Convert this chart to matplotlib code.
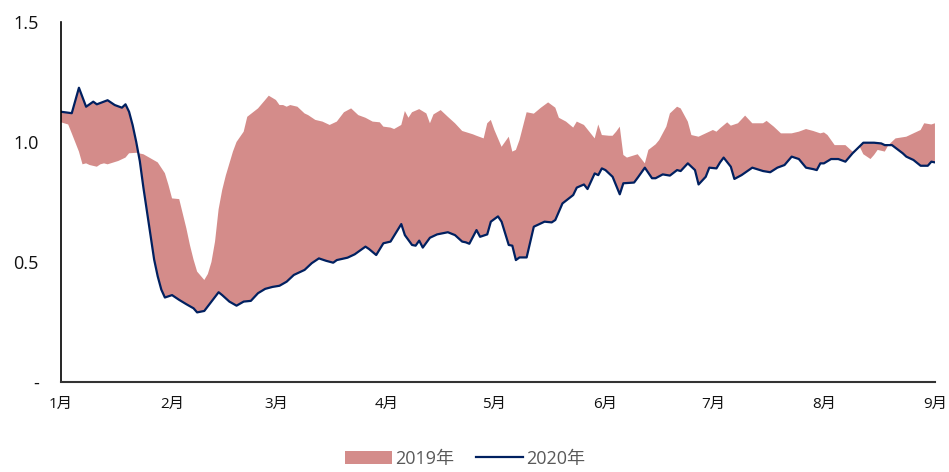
import numpy as np
import pandas as pd
import matplotlib
matplotlib.use("Agg")
import matplotlib.pyplot as plt
import matplotlib.dates as mdates

plt.rcParams['font.family'] = ['Open Sans', 'Noto Sans CJK SC', 'DejaVu Sans']

# day offsets from 2020-01-01 and values
days_2020 = [0, 3, 5, 7, 9, 10, 13, 15, 17, 18, 19, 20, 21, 22, 23, 24, 25, 26, 27, 28, 29,
             31, 33, 35, 37, 38, 40, 42, 44, 45, 47, 49, 51, 53, 55, 57, 59, 61, 63, 65, 68,
             70, 72, 74, 76, 77, 80, 82, 85, 86, 88, 90, 92, 95, 96, 98, 99, 100, 101, 103,
             105, 108, 110, 112, 113, 114, 116, 117, 119, 120, 121, 122, 123, 125, 126, 127,
             128, 130, 132, 135, 137, 138, 140, 143, 144, 146, 147, 149, 150, 151, 152, 154,
             156, 157, 160, 161, 163, 165, 166, 168, 170, 172, 173, 175, 177, 178, 180, 181,
             183, 184, 185, 187, 188, 190, 193, 196, 198, 200, 202, 204, 206, 208, 210, 211,
             212, 213, 215, 217, 219, 221, 224, 227, 229, 230, 232, 235, 236, 238, 240, 242,
             243, 244]
vals_2020 = [1.126, 1.12, 1.226, 1.147, 1.168, 1.157, 1.174, 1.154, 1.143, 1.157, 1.126, 1.07,
             1.00, 0.92, 0.81, 0.71, 0.61, 0.51, 0.44, 0.385, 0.352,
             0.362, 0.342, 0.324, 0.307, 0.29, 0.296, 0.335, 0.374, 0.362, 0.335, 0.318, 0.335,
             0.338, 0.37, 0.388, 0.396, 0.401, 0.418, 0.446, 0.467,
             0.495, 0.515, 0.505, 0.497, 0.508, 0.518, 0.532, 0.564, 0.554, 0.529, 0.578, 0.585,
             0.658, 0.612, 0.571, 0.568, 0.589, 0.56, 0.601,
             0.615, 0.624, 0.612, 0.585, 0.582, 0.576, 0.633, 0.605, 0.615, 0.668, 0.679, 0.69,
             0.668, 0.571, 0.568, 0.508,
             0.519, 0.519, 0.647, 0.668, 0.665, 0.675, 0.744, 0.779, 0.81, 0.823, 0.804, 0.869,
             0.862, 0.89, 0.883, 0.855,
             0.782, 0.828, 0.831, 0.851, 0.893, 0.849, 0.849, 0.865, 0.86, 0.883, 0.879, 0.911,
             0.883, 0.823, 0.855, 0.893,
             0.89, 0.915, 0.935, 0.897, 0.846, 0.862, 0.893, 0.879, 0.874, 0.893, 0.904, 0.939,
             0.929, 0.893, 0.887, 0.883,
             0.911, 0.911, 0.929, 0.929, 0.918, 0.953, 0.997, 0.997, 0.994, 0.987, 0.987, 0.953,
             0.939, 0.925, 0.901, 0.901,
             0.918, 0.915]

days_2019 = [0, 2, 3, 5, 6, 7, 8, 10, 11, 12, 13, 16, 18, 19, 21, 23, 25, 27, 29, 30, 31, 33,
             35, 36, 37, 38, 40, 41, 42, 43, 44, 45, 46, 48, 49, 51, 52, 55, 57, 58, 60, 61,
             62, 63, 64, 66, 68, 69, 71, 73, 75, 77, 79, 81, 83, 85, 87, 89, 90, 92, 93, 95,
             96, 97, 98, 100, 102, 103, 104, 106, 108, 110, 112, 115, 116, 118, 119, 120, 121,
             123, 124, 125, 126, 127, 128, 130, 132, 134, 136, 138, 139, 141, 143, 144, 146,
             149, 150, 151, 153, 154, 155, 156, 157, 158, 161, 163, 164, 166, 167, 169, 170,
             172, 173, 175, 176, 178, 180, 182, 183, 184, 186, 187, 189, 191, 193, 196, 197,
             199, 201, 204, 206, 208, 210, 212, 213, 214, 216, 219, 221, 223, 224, 226, 227,
             228, 230, 231, 233, 236, 238, 240, 241, 243, 244]
vals_2019 = [1.082, 1.073, 1.036, 0.96, 0.907, 0.911, 0.904, 0.897, 0.907, 0.911, 0.907, 0.921,
             0.935, 0.953, 0.955, 0.949, 0.932, 0.915, 0.87, 0.821, 0.765, 0.762,
             0.64, 0.57, 0.51, 0.46, 0.425, 0.45, 0.50, 0.585, 0.72, 0.80, 0.86, 0.96, 1.0,
             1.043, 1.105, 1.14, 1.175, 1.193, 1.175, 1.154,
             1.154, 1.147, 1.154, 1.147, 1.119, 1.112, 1.092, 1.085, 1.071, 1.085, 1.124, 1.14,
             1.112, 1.101, 1.085, 1.082, 1.064, 1.06, 1.054, 1.071,
             1.129, 1.101, 1.124, 1.137, 1.119, 1.078, 1.115, 1.133, 1.105, 1.078, 1.046,
             1.032, 1.026, 1.015, 1.078, 1.092, 1.05,
             0.98, 1.001, 1.022, 0.96, 0.967, 1.008, 1.124, 1.118, 1.143, 1.165, 1.143, 1.101,
             1.085, 1.06, 1.085, 1.071,
             1.015, 1.073, 1.029, 1.026, 1.026, 1.043, 1.064, 0.946, 0.935, 0.949, 0.911, 0.967,
             0.99, 1.008, 1.064, 1.119,
             1.147, 1.14, 1.085, 1.029, 1.022, 1.036, 1.05, 1.043, 1.057, 1.082, 1.068, 1.078,
             1.11, 1.078, 1.078, 1.088,
             1.064, 1.036, 1.036, 1.043, 1.054, 1.046, 1.036, 1.04, 1.029, 0.987, 0.987, 0.96,
             0.98, 0.949, 0.929, 0.946,
             0.967, 0.96, 0.987, 1.015, 1.022, 1.036, 1.05, 1.078, 1.073, 1.078]

months = pd.date_range('2020-01-01', '2020-09-01', freq='MS')
month_labels = [f'{m.month}月' for m in months]
y_ticks = [0, 0.5, 1.0, 1.5]
y_labels = ['-', '0.5', '1.0', '1.5']

start = pd.Timestamp('2020-01-01')
d20 = start + pd.to_timedelta(days_2020, unit='D')
d19 = start + pd.to_timedelta(days_2019, unit='D')

fig = plt.figure(figsize=(9.49, 4.72), dpi=100)
ax = fig.add_axes([0.0643, 0.1907, 0.9209, 0.7627])

# 2019 band is the area between the 2019 and 2020 curves
fill_x = np.concatenate([mdates.date2num(d19), mdates.date2num(d20)[::-1]])
fill_y = np.concatenate([vals_2019, vals_2020[::-1]])
ax.fill(fill_x, fill_y, color='#D48C8A', lw=0, label='2019年')
ax.plot(d20, vals_2020, color='#002060', lw=1.6, label='2020年')

ax.set_xlim(months[0], months[-1])
ax.set_ylim(0, 1.5)
ax.set_xticks(months)
ax.set_xticklabels(month_labels, fontsize=11, color='#111111')
ax.set_yticks(y_ticks)
ax.set_yticklabels(y_labels, fontsize=13, color='#111111')
ax.tick_params(axis='both', length=0)
ax.tick_params(axis='x', pad=11)
ax.tick_params(axis='y', pad=16)

for s in ['top', 'right']:
    ax.spines[s].set_visible(False)
ax.spines['left'].set_color('black')
ax.spines['bottom'].set_color('#333333')
ax.spines['left'].set_linewidth(1.2)
ax.spines['bottom'].set_linewidth(1.5)

leg = fig.legend(loc='lower center', bbox_to_anchor=(0.49, -0.025), ncol=2, frameon=False,
                 fontsize=13, handlelength=2.6, columnspacing=1.2, handletextpad=0.2)
for t in leg.get_texts():
    t.set_color('#595959')

fig.savefig('out.png', dpi=100)
